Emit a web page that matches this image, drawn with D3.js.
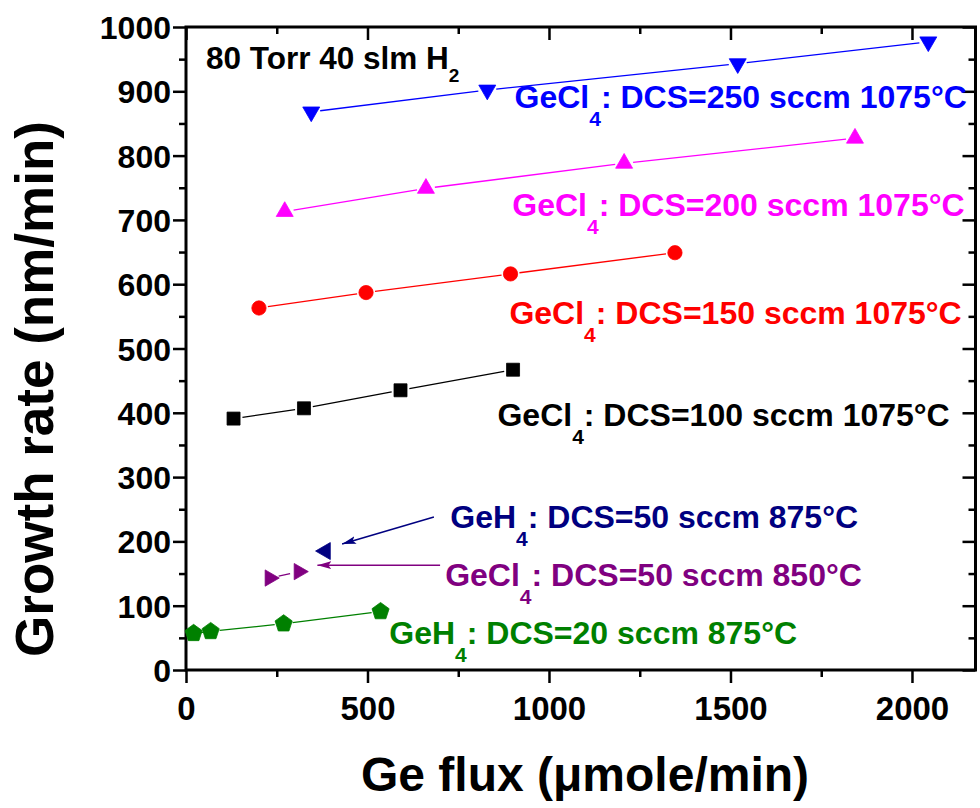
<!DOCTYPE html>
<html>
<head>
<meta charset="utf-8">
<script src="https://cdn.jsdelivr.net/npm/d3@7"></script>
<style>
  html, body { margin: 0; padding: 0; background: #fff; }
  svg { display: block; font-family: "Liberation Sans", Arial, sans-serif; font-weight: bold; }
</style>
</head>
<body>
<svg id="chart" width="980" height="808"></svg>
<script>
// ---------- data ----------
const seriesNames = ["DCS250", "DCS200", "DCS150", "DCS100", "GeH4_50", "GeCl4_50", "GeH4_20"];
const dcs250X = [345, 830, 1520, 2045];
const dcs250Y = [868, 902, 943, 977];
const dcs200X = [272, 661, 1207, 1843];
const dcs200Y = [713, 749, 788, 827];
const dcs150X = [201, 496, 894, 1347];
const dcs150Y = [563, 587, 616, 649];
const dcs100X = [131, 325, 591, 901];
const dcs100Y = [391, 407, 435, 467];
const geh4_50X = [384];
const geh4_50Y = [185];
const gecl4_50X = [231, 311];
const gecl4_50Y = [143, 153];
const geh4_20X = [21, 68, 269, 536];
const geh4_20Y = [57, 60, 72, 91];

const xTicks = [0, 500, 1000, 1500, 2000];
const xMinorTicks = [250, 750, 1250, 1750];
const yTicks = [0, 100, 200, 300, 400, 500, 600, 700, 800, 900, 1000];
const yMinorTicks = [50, 150, 250, 350, 450, 550, 650, 750, 850, 950];

const labelMain = ["GeCl", "GeCl", "GeCl", "GeCl", "GeH", "GeCl", "GeH"];
const labelRest = [": DCS=250 sccm 1075°C", ": DCS=200 sccm 1075°C", ": DCS=150 sccm 1075°C",
                   ": DCS=100 sccm 1075°C", ": DCS=50 sccm 875°C", ": DCS=50 sccm 850°C", ": DCS=20 sccm 875°C"];
// label anchor (data coordinates)
const labelX = [905, 899, 891, 858, 728, 714, 560];
const labelY = [874, 706, 538, 379, 221, 131, 41];
// arrows (data coordinates): from -> to
const arrowFromX = [683, 700];
const arrowFromY = [238, 163];
const arrowToX = [430, 362];
const arrowToY = [196, 163];

// ---------- styles ----------
const colors = ["#0000FF", "#FF00FF", "#FF0000", "#000000", "#000080", "#800080", "#008000"];

const W = 980, H = 808;
const margin = { left: 186, top: 27, right: 4.5, bottom: 138 };
const iw = W - margin.left - margin.right;
const ih = H - margin.top - margin.bottom;

const svg = d3.select("#chart");
const g = svg.append("g").attr("transform", `translate(${margin.left},${margin.top})`);

const x = d3.scaleLinear().domain([0, 2175]).range([0, iw]);
const y = d3.scaleLinear().domain([0, 1000]).range([ih, 0]);

const series = [
  { xs: dcs250X, ys: dcs250Y, sym: "tri", rot: 180, size: 125 },
  { xs: dcs200X, ys: dcs200Y, sym: "tri", rot: 0, size: 125 },
  { xs: dcs150X, ys: dcs150Y, sym: "circle", rot: 0, size: 160 },
  { xs: dcs100X, ys: dcs100Y, sym: "square", rot: 0, size: 169 },
  { xs: geh4_50X, ys: geh4_50Y, sym: "tri", rot: -90, size: 125 },
  { xs: gecl4_50X, ys: gecl4_50Y, sym: "tri", rot: 90, size: 115 },
  { xs: geh4_20X, ys: geh4_20Y, sym: "pent", rot: 0, size: 9 }
];

// ---------- axes ----------
function styleAxis(sel) {
  sel.select(".domain").remove();
  sel.selectAll(".tick line").attr("stroke", "#000").attr("stroke-width", 2.5);
}
// bottom (outward)
g.append("g").attr("transform", `translate(0,${ih})`)
  .call(d3.axisBottom(x).tickValues(xMinorTicks).tickSize(7).tickFormat(""))
  .call(styleAxis);
const bx = g.append("g").attr("transform", `translate(0,${ih})`)
  .call(d3.axisBottom(x).tickValues(xTicks).tickSize(13).tickFormat(d3.format("d")))
  .call(styleAxis);
bx.selectAll("text").attr("dy", null).attr("y", 50)
  .attr("font-size", 33).attr("font-weight", "bold").attr("fill", "#000")
  .attr("font-family", "'Liberation Sans', Arial, sans-serif");
// top (inward)
g.append("g").call(d3.axisBottom(x).tickValues(xMinorTicks).tickSize(7).tickFormat("")).call(styleAxis);
g.append("g").call(d3.axisBottom(x).tickValues(xTicks).tickSize(13).tickFormat("")).call(styleAxis);
// left (outward)
g.append("g").call(d3.axisLeft(y).tickValues(yMinorTicks).tickSize(7).tickFormat("")).call(styleAxis);
const ly = g.append("g").call(d3.axisLeft(y).tickValues(yTicks).tickSize(13).tickPadding(2).tickFormat(d3.format("d")))
  .call(styleAxis);
ly.selectAll("text").attr("dy", "0.36em")
  .attr("font-size", 32).attr("font-weight", "bold").attr("fill", "#000")
  .attr("font-family", "'Liberation Sans', Arial, sans-serif");
// right (inward)
g.append("g").attr("transform", `translate(${iw},0)`)
  .call(d3.axisLeft(y).tickValues(yMinorTicks).tickSize(7).tickFormat("")).call(styleAxis);
g.append("g").attr("transform", `translate(${iw},0)`)
  .call(d3.axisLeft(y).tickValues(yTicks).tickSize(13).tickFormat("")).call(styleAxis);

// frame
g.append("rect").attr("x", 0).attr("y", 0).attr("width", iw).attr("height", ih)
  .attr("fill", "none").attr("stroke", "#000").attr("stroke-width", 3);

// ---------- lines with gaps ----------
const gap = 9;
series.forEach((s, i) => {
  for (let k = 0; k < s.xs.length - 1; k++) {
    const x1 = x(s.xs[k]), y1 = y(s.ys[k]), x2 = x(s.xs[k + 1]), y2 = y(s.ys[k + 1]);
    const len = Math.hypot(x2 - x1, y2 - y1);
    const g2 = Math.min(gap, len / 2 - 2);
    if (g2 <= 0) continue;
    const ux = (x2 - x1) / len, uy = (y2 - y1) / len;
    g.append("line")
      .attr("x1", x1 + ux * g2).attr("y1", y1 + uy * g2)
      .attr("x2", x2 - ux * g2).attr("y2", y2 - uy * g2)
      .attr("stroke", colors[i]).attr("stroke-width", 1.3);
  }
});

// ---------- markers ----------
function pentagon(r) {
  const pts = d3.range(5).map(j => {
    const a = -Math.PI / 2 + j * 2 * Math.PI / 5;
    return [r * Math.cos(a), r * Math.sin(a)];
  });
  return "M" + pts.map(p => p.join(",")).join("L") + "Z";
}
series.forEach((s, i) => {
  s.xs.forEach((xv, k) => {
    let path;
    if (s.sym === "tri") path = d3.symbol(d3.symbolTriangle, s.size)();
    else if (s.sym === "circle") path = d3.symbol(d3.symbolCircle, s.size)();
    else if (s.sym === "square") path = d3.symbol(d3.symbolSquare, s.size)();
    else path = pentagon(s.size);
    g.append("path").attr("d", path)
      .attr("transform", `translate(${x(xv)},${y(s.ys[k])}) rotate(${s.rot})`)
      .attr("fill", colors[i]).attr("stroke", colors[i]).attr("stroke-width", 0.8);
  });
});

// ---------- arrows ----------
const defs = svg.append("defs");
[4, 5].forEach(ci => {
  defs.append("marker").attr("id", "arrow" + ci)
    .attr("viewBox", "0 -5 14 10").attr("refX", 14).attr("refY", 0)
    .attr("markerUnits", "userSpaceOnUse").attr("markerWidth", 14).attr("markerHeight", 10)
    .attr("orient", "auto")
    .append("path").attr("d", "M0,-4L14,0L0,4L3,0Z").attr("fill", colors[ci]);
});
arrowFromX.forEach((fx, k) => {
  const ci = k === 0 ? 4 : 5;
  g.append("line")
    .attr("x1", x(fx)).attr("y1", y(arrowFromY[k]))
    .attr("x2", x(arrowToX[k])).attr("y2", y(arrowToY[k]))
    .attr("stroke", colors[ci]).attr("stroke-width", 1.5)
    .attr("marker-end", `url(#arrow${ci})`);
});

// ---------- labels ----------
labelMain.forEach((m, i) => {
  const t = g.append("text").attr("x", x(labelX[i])).attr("y", y(labelY[i]))
    .attr("fill", colors[i]).attr("font-size", 32).attr("font-weight", "bold");
  t.append("tspan").text(m);
  t.append("tspan").attr("font-size", 21).attr("dy", 18).text("4");
  t.append("tspan").attr("dy", -18).text(labelRest[i]);
});

const cond = g.append("text").attr("x", x(55)).attr("y", y(935))
  .attr("fill", "#000").attr("font-size", 31.5).attr("font-weight", "bold");
cond.append("tspan").text("80 Torr 40 slm H");
cond.append("tspan").attr("font-size", 19).attr("dy", 13).text("2");

// ---------- axis titles ----------
svg.append("text").attr("x", 585).attr("y", 791).attr("text-anchor", "middle")
  .attr("font-size", 48).attr("font-weight", "bold").attr("fill", "#000")
  .text("Ge flux (μmole/min)");
svg.append("text").attr("transform", "translate(53,389) rotate(-90)").attr("text-anchor", "middle")
  .attr("font-size", 53).attr("font-weight", "bold").attr("fill", "#000")
  .text("Growth rate (nm/min)");
</script>
</body>
</html>
